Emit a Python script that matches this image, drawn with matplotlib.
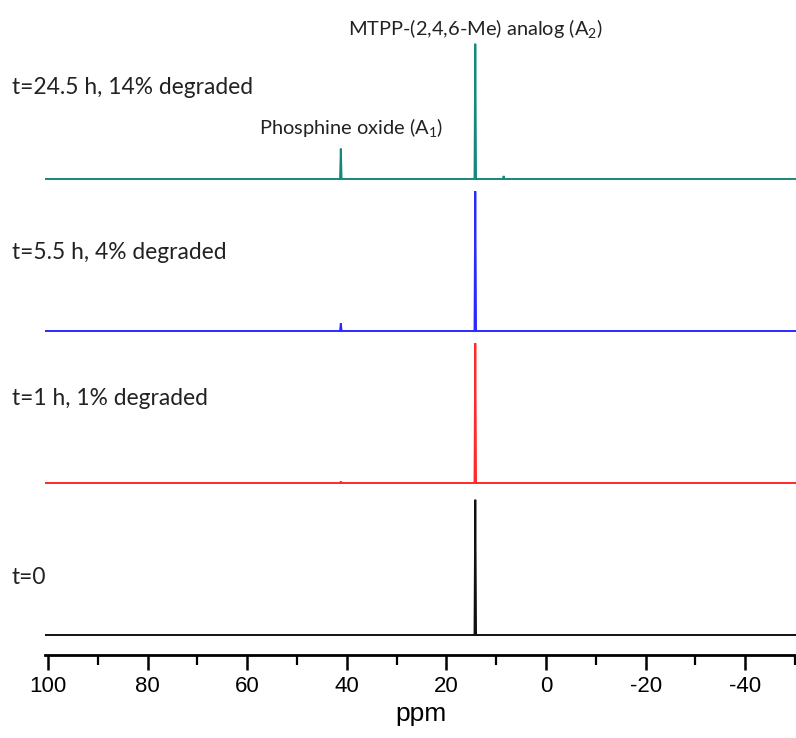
import matplotlib
matplotlib.use("Agg")
import matplotlib.pyplot as plt
from matplotlib.ticker import MultipleLocator
import numpy as np

plt.rcParams["mathtext.fontset"] = "custom"
plt.rcParams["mathtext.rm"] = "Lato"
plt.rcParams["mathtext.it"] = "Lato"

# spectra, bottom to top
labels = ["t=0", "t=1 h, 1% degraded", "t=5.5 h, 4% degraded", "t=24.5 h, 14% degraded"]
colors = ["#111111", "#ff2a2a", "#2a2aff", "#16877c"]
offsets = [0, 1, 2, 3]

# peak positions (ppm) and heights (in stack units)
peak_ppm = [14.2, 41.2, 8.5]
peak_heights = [
    [0.89, 0.0, 0.0],
    [0.92, 0.01, 0.0],
    [0.92, 0.05, 0.0],
    [0.89, 0.20, 0.02],
]
x_range = [100.6, -50.2]
half_width = 0.15

major_ticks = [100, 80, 60, 40, 20, 0, -20, -40]

fig = plt.figure(figsize=(7.96, 7.38), dpi=100)
ax = fig.add_axes([45 / 796, (738 - 655) / 738, 751 / 796, 655 / 738])


def stick_trace(heights):
    # baseline with a narrow spike at every peak
    xs = [x_range[0]]
    ys = [0.0]
    for p, h in sorted(zip(peak_ppm, heights), reverse=True):
        if h <= 0:
            continue
        xs += [p + half_width, p, p - half_width]
        ys += [0.0, h, 0.0]
    xs.append(x_range[1])
    ys.append(0.0)
    return np.array(xs), np.array(ys)


for hts, off, c in zip(peak_heights, offsets, colors):
    xs, ys = stick_trace(hts)
    ax.plot(xs, ys + off, color=c, lw=1.4, solid_joinstyle="miter")

ax.set_xlim(x_range[0], x_range[1])
ax.set_ylim(-20 / 152, 635 / 152)

for s in ["left", "right", "top"]:
    ax.spines[s].set_visible(False)
ax.spines["bottom"].set_linewidth(2)
ax.set_yticks([])
ax.set_xticks(major_ticks)
ax.set_xticklabels([str(v) for v in major_ticks])
ax.xaxis.set_minor_locator(MultipleLocator(10))
ax.tick_params(axis="x", which="major", direction="out", length=11, width=1.8, pad=4)
ax.tick_params(axis="x", which="minor", direction="out", length=7, width=1.6)
for t in ax.get_xticklabels():
    t.set_fontfamily("Liberation Sans")
    t.set_fontsize(16)
ax.set_xlabel("ppm", fontsize=19, family="Liberation Sans", labelpad=4)

# sample labels (pixel rows from the top of the figure)
label_y = [578, 398, 252, 88]
for lab, y in zip(labels, label_y):
    fig.text(12 / 796, 1 - y / 738, lab, fontsize=16.4, family="Lato",
             color="#222222", ha="left", va="center")

ax.text(14.2, 3.99, r"MTPP-(2,4,6-Me) analog (A$_2$)", fontsize=14.4,
        family="Lato", color="#222222", ha="center", va="center")
ax.text(39.2, 3.34, r"Phosphine oxide (A$_1$)", fontsize=14.4,
        family="Lato", color="#222222", ha="center", va="center")

fig.savefig("out.png", dpi=100, facecolor="white")
